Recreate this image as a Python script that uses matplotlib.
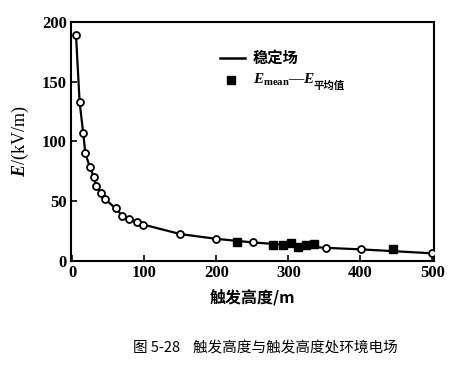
import matplotlib.pyplot as plt

plt.rcParams['font.family'] = ['Liberation Serif', 'Noto Sans CJK SC']
plt.rcParams['mathtext.fontset'] = 'custom'
plt.rcParams['mathtext.rm'] = 'Liberation Serif'
plt.rcParams['mathtext.it'] = 'Liberation Serif:italic:bold'
plt.rcParams['mathtext.bf'] = 'Liberation Serif:bold'

# steady field (open circles on the curve)
h_steady = [5, 10, 15, 18, 24, 30, 33, 40, 45, 60, 69, 79, 90, 98,
            150, 200, 251, 352, 401, 500]
e_steady = [189, 133, 107, 90, 79, 70, 63, 57, 52, 44, 38, 35, 33, 30.5,
            22.5, 18.5, 15.5, 11, 9.7, 6.4]

# E_mean measurements (filled squares)
h_mean = [229, 278, 292, 304, 313, 325, 336, 445]
e_mean = [15.5, 13.6, 13.6, 15.0, 12.0, 13.6, 14.4, 9.7]

fig = plt.figure(figsize=(4.7, 3.65), dpi=100)
ax = fig.add_axes([0.151, 0.285, 0.772, 0.655])

ax.plot(h_steady, e_steady, color='black', linewidth=1.6, zorder=2)
ax.plot(h_steady, e_steady, linestyle='none', marker='o', markersize=5,
        markerfacecolor='white', markeredgecolor='black', markeredgewidth=1.3, zorder=3)
ax.plot(h_mean, e_mean, linestyle='none', marker='s', markersize=6,
        color='black', zorder=4)

ax.set_xlim(-2, 502)
ax.set_ylim(0, 200)
ax.set_xticks([0, 100, 200, 300, 400, 500])
ax.set_yticks([0, 50, 100, 150, 200])
ax.tick_params(direction='in', length=4, width=1.2, labelsize=12, pad=3)
for lbl in ax.get_xticklabels() + ax.get_yticklabels():
    lbl.set_fontweight('bold')
for s in ax.spines.values():
    s.set_linewidth(1.5)

ax.set_xlabel('触发高度/m', family=['Noto Sans CJK SC', 'DejaVu Sans'],
              fontsize=11.5, fontweight='bold', labelpad=6)
ax.set_ylabel(r'$E$/(kV/m)', fontsize=13, labelpad=8)

# legend drawn by hand
tr = ax.transAxes
ax.plot([0.41, 0.479], [0.849, 0.849], color='black', linewidth=1.8, transform=tr)
ax.text(0.501, 0.849, '稳定场', transform=tr, va='center', ha='left',
        family=['Noto Sans CJK SC'], fontsize=11, fontweight='bold')
ax.plot([0.441], [0.757], marker='s', markersize=6, color='black', transform=tr)
ax.text(0.501, 0.757, r'$E_{\mathbf{mean}}$—$E$', transform=tr, va='center', ha='left',
        fontsize=11)
ax.text(0.668, 0.733, '平均值', transform=tr, va='center', ha='left',
        family=['Noto Sans CJK SC'], fontsize=7.5, fontweight='bold')

fig.text(0.565, 0.049, '图 5-28    触发高度与触发高度处环境电场',
         family=['Noto Sans CJK SC', 'DejaVu Sans'], fontsize=10.5,
         ha='center', va='center')

fig.savefig('out.png', dpi=100)
